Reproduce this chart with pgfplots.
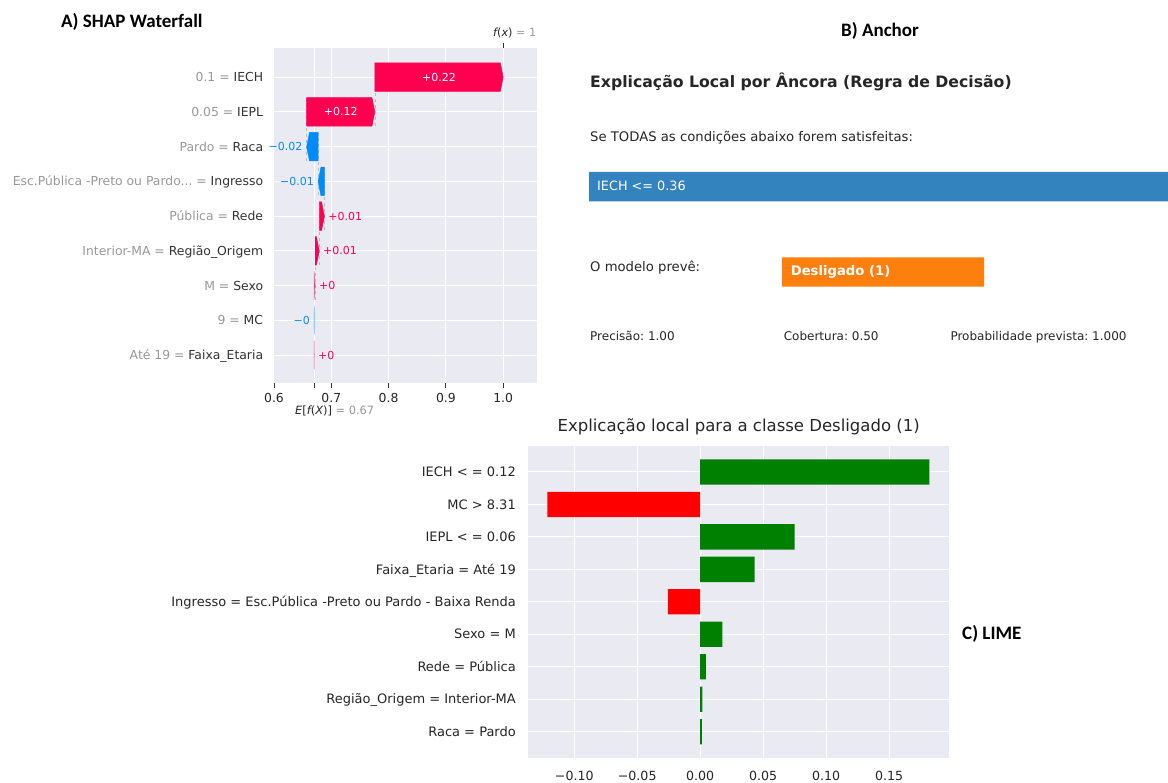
\documentclass[border=0pt]{standalone}
\usepackage{fontspec}
\setmainfont{DejaVu Sans}
\newfontfamily\carlito{Carlito}
\usepackage{pgfplots}
\pgfplotsset{compat=1.18}
\frenchspacing

\definecolor{gridbg}{HTML}{EAEAF2}
\definecolor{shappos}{HTML}{FF0051}
\definecolor{shapneg}{HTML}{008BFB}
\definecolor{txt}{HTML}{262626}
\definecolor{featname}{HTML}{333333}
\definecolor{featgray}{HTML}{999999}
\definecolor{conn}{HTML}{BBBBBB}
\definecolor{anchorblue}{HTML}{3383BE}
\definecolor{anchororange}{HTML}{FF7F0E}
\definecolor{limegreen}{HTML}{008000}
\definecolor{limered}{HTML}{FF0000}

\newcommand{\fs}[1]{\fontsize{#1}{#1}\selectfont}

\begin{document}
\begin{tikzpicture}[x=1pt,y=1pt]
\fill[white] (0,0) rectangle (1168,783);
\path[use as bounding box] (0,0) rectangle (1168,783);

% ---------------- A) SHAP waterfall ----------------
\begin{axis}[
  at={(273.3pt,400pt)}, anchor=south west, scale only axis,
  width=263.4pt, height=335pt,
  xmin=0.5988, xmax=1.0585, ymin=-0.8, ymax=8.84,
  axis background/.style={fill=gridbg},
  axis line style={draw=none},
  grid=major, major grid style={white, line width=1pt},
  xtick={0.6,0.7,0.8,0.9,1.0},
  xticklabels={0.6,0.7,0.8,0.9,1.0},
  extra x ticks={0.67}, extra x tick labels={},
  extra x tick style={grid=major},
  xtick pos=lower, ytick pos=lower,
  ytick={0,...,8},
  yticklabels={
    {\color{featgray}Até 19 = }Faixa\_Etaria,
    {\color{featgray}9 = }MC,
    {\color{featgray}M = }Sexo,
    {\color{featgray}Interior-MA = }Região\_Origem,
    {\color{featgray}Pública = }Rede,
    {\color{featgray}Esc.Pública -Preto ou Pardo... = }Ingresso,
    {\color{featgray}Pardo = }Raca,
    {\color{featgray}0.05 = }IEPL,
    {\color{featgray}0.1 = }IECH},
  tick align=outside, major tick length=5pt,
  xtick style={draw=featname, line width=0.8pt},
  ytick style={draw=none},
  x tick label style={font=\fs{12.4}, text=txt, text height=9pt, text depth=0pt, inner sep=0pt, anchor=north, yshift=-5pt},
  y tick label style={font=\fs{12.4}, text=featname, text height=9pt, text depth=0pt, inner sep=0pt, anchor=east, xshift=-5pt},
  clip=false,
]
% connectors between consecutive bars
\addplot[conn, dashed, line width=0.5pt] coordinates {(0.776,6.6) (0.776,8.4)};
\addplot[conn, dashed, line width=0.5pt] coordinates {(0.657,5.6) (0.657,7.4)};
\addplot[conn, dashed, line width=0.5pt] coordinates {(0.677,4.6) (0.677,6.4)};
\addplot[conn, dashed, line width=0.5pt] coordinates {(0.688,3.6) (0.688,5.4)};
\addplot[conn, dashed, line width=0.5pt] coordinates {(0.679,2.6) (0.679,4.4)};
\addplot[conn, dashed, line width=0.5pt] coordinates {(0.672,1.6) (0.672,3.4)};
% arrows: IECH, IEPL, Raca, Ingresso, Rede, Regiao, Sexo, MC, Faixa
\addplot[fill=shappos, draw=shappos, line width=0.4pt] coordinates {(0.776,7.59) (0.9951,7.59) (1.0,8) (0.9951,8.41) (0.776,8.41) (0.776,7.59)};
\addplot[fill=shappos, draw=shappos, line width=0.4pt] coordinates {(0.657,6.59) (0.7711,6.59) (0.776,7) (0.7711,7.41) (0.657,7.41) (0.657,6.59)};
\addplot[fill=shapneg, draw=shapneg, line width=0.4pt] coordinates {(0.677,5.59) (0.6619,5.59) (0.657,6) (0.6619,6.41) (0.677,6.41) (0.677,5.59)};
\addplot[fill=shapneg, draw=shapneg, line width=0.4pt] coordinates {(0.688,4.59) (0.6819,4.59) (0.677,5) (0.6819,5.41) (0.688,5.41) (0.688,4.59)};
\addplot[fill=shappos, draw=shappos, line width=0.4pt] coordinates {(0.679,3.59) (0.6831,3.59) (0.688,4) (0.6831,4.41) (0.679,4.41) (0.679,3.59)};
\addplot[fill=shappos, draw=shappos, line width=0.4pt] coordinates {(0.672,2.59) (0.6741,2.59) (0.679,3) (0.6741,3.41) (0.672,3.41) (0.672,2.59)};
\addplot[fill=shappos, draw=shappos!60, line width=0.4pt] coordinates {(0.670,1.59) (0.672,2) (0.670,2.41) (0.670,1.59)};
\addplot[fill=shapneg, draw=shapneg!60, line width=0.4pt] coordinates {(0.6703,0.59) (0.6700,1) (0.6703,1.41) (0.6703,0.59)};
\addplot[fill=shappos, draw=shappos!60, line width=0.4pt] coordinates {(0.6700,-0.41) (0.6703,0) (0.6700,0.41) (0.6700,-0.41)};
% value labels
\begin{scope}[every node/.style={font=\fs{11}, inner sep=0pt, text height=8pt, text depth=0pt}]
\node[text=white, anchor=center] at (axis cs:0.888,8) {+0.22};
\node[text=white, anchor=center] at (axis cs:0.7165,7) {+0.12};
\node[text=shapneg, anchor=east, xshift=-4pt] at (axis cs:0.657,6) {−0.02};
\node[text=shapneg, anchor=east, xshift=-4pt] at (axis cs:0.677,5) {−0.01};
\node[text=shappos, anchor=west, xshift=3.7pt] at (axis cs:0.688,4) {+0.01};
\node[text=shappos, anchor=west, xshift=3.7pt] at (axis cs:0.679,3) {+0.01};
\node[text=shappos, anchor=west, xshift=3.7pt] at (axis cs:0.672,2) {+0};
\node[text=shapneg, anchor=east, xshift=-4pt] at (axis cs:0.670,1) {−0};
\node[text=shappos, anchor=west, xshift=3.7pt] at (axis cs:0.6703,0) {+0};
\end{scope}
% f(x) tick on top
\draw[featname, line width=0.8pt] (axis cs:1.0,8.84) -- (axis cs:1.0,8.984);
\end{axis}

\node[anchor=base west, inner sep=0pt, font=\fs{11.2}, text=txt] at (493,746.5) {\itshape f\upshape(\itshape x\upshape) {\color{featgray}= 1}};
\node[anchor=base west, inner sep=0pt, font=\fs{11.4}, text=txt] at (295,368) {\itshape E\upshape[\itshape f\upshape(\itshape X\upshape)] {\color{featgray}= 0.67}};
\node[anchor=base west, inner sep=0pt, font=\carlito\bfseries\fs{19}] at (61,755) {A) SHAP Waterfall};

% ---------------- B) Anchor ----------------
\begin{axis}[
  at={(589pt,403pt)}, anchor=south west, scale only axis,
  width=579pt, height=340pt,
  xmin=589, xmax=1168, ymin=40, ymax=380, y dir=reverse,
  hide axis, clip=false,
]
\addplot[fill=anchorblue, draw=none] coordinates {(589,172) (1168,172) (1168,201.3) (589,201.3) (589,172)};
\addplot[fill=anchororange, draw=none] coordinates {(782,257.3) (984,257.3) (984,286.7) (782,286.7) (782,257.3)};
\end{axis}
\node[anchor=base, inner sep=0pt, font=\carlito\bfseries\fs{19}] at (880,746.5) {B) Anchor};
\node[anchor=base west, inner sep=0pt, font=\bfseries\fs{15.7}, text=txt] at (590,695) {Explicação Local por Âncora (Regra de Decisão)};
\node[anchor=base west, inner sep=0pt, font=\fs{13.2}, text=txt] at (590,641.3) {Se TODAS as condições abaixo forem satisfeitas:};
\node[anchor=base west, inner sep=0pt, font=\fs{12.8}, text=white] at (597,592.3) {IECH <= 0.36};
\node[anchor=base west, inner sep=0pt, font=\fs{13.2}, text=txt] at (590,511.3) {O modelo prevê:};
\node[anchor=base west, inner sep=0pt, font=\bfseries\fs{13.2}, text=white] at (790.6,507) {Desligado (1)};
\node[anchor=base west, inner sep=0pt, font=\fs{12}, text=txt] at (590,442) {Precisão: 1.00};
\node[anchor=base west, inner sep=0pt, font=\fs{12}, text=txt] at (783.6,442) {Cobertura: 0.50};
\node[anchor=base west, inner sep=0pt, font=\fs{12}, text=txt] at (950.3,442) {Probabilidade prevista: 1.000};

% ---------------- C) LIME ----------------
\begin{axis}[
  at={(528.3pt,25pt)}, anchor=south west, scale only axis,
  width=420.7pt, height=312pt,
  xmin=-0.1365, xmax=0.1976, ymin=-0.81, ymax=8.80,
  axis background/.style={fill=gridbg},
  axis line style={draw=none},
  grid=major, major grid style={white, line width=1pt},
  xtick={-0.10,-0.05,0,0.05,0.10,0.15},
  xticklabels={−0.10,−0.05,0.00,0.05,0.10,0.15},
  ytick={0,...,8},
  yticklabels={
    Raca = Pardo,
    Região\_Origem = Interior-MA,
    Rede = Pública,
    Sexo = M,
    Ingresso = Esc.Pública -Preto ou Pardo - Baixa Renda,
    Faixa\_Etaria = Até 19,
    IEPL < = 0.06,
    MC > 8.31,
    IECH < = 0.12},
  major tick length=0pt, tick style={draw=none},
  x tick label style={font=\fs{12.6}, text=txt, text height=9pt, text depth=0pt, inner sep=0pt, anchor=north, yshift=-13.7pt},
  y tick label style={font=\fs{13}, text=txt, text height=9.3pt, text depth=0pt, inner sep=0pt, anchor=east, xshift=-12.3pt},
  title={Explicação local para a classe Desligado (1)},
  title style={font=\fs{16.5}, text=txt, inner sep=0pt, anchor=base, at={(0.5,1)}, yshift=8.7pt},
]
\addplot[xbar, bar width=0.78, bar shift=0pt, fill=limegreen, draw=none]
  coordinates {(0.182,8) (0.075,6) (0.0433,5) (0.0177,3) (0.0045,2) (0.0018,1) (0.0013,0)};
\addplot[xbar, bar width=0.78, bar shift=0pt, fill=limered, draw=none]
  coordinates {(-0.1213,7) (-0.0256,4)};
\end{axis}
\node[anchor=base west, inner sep=0pt, font=\carlito\bfseries\fs{19}] at (962,143) {C) LIME};

\end{tikzpicture}
\end{document}
